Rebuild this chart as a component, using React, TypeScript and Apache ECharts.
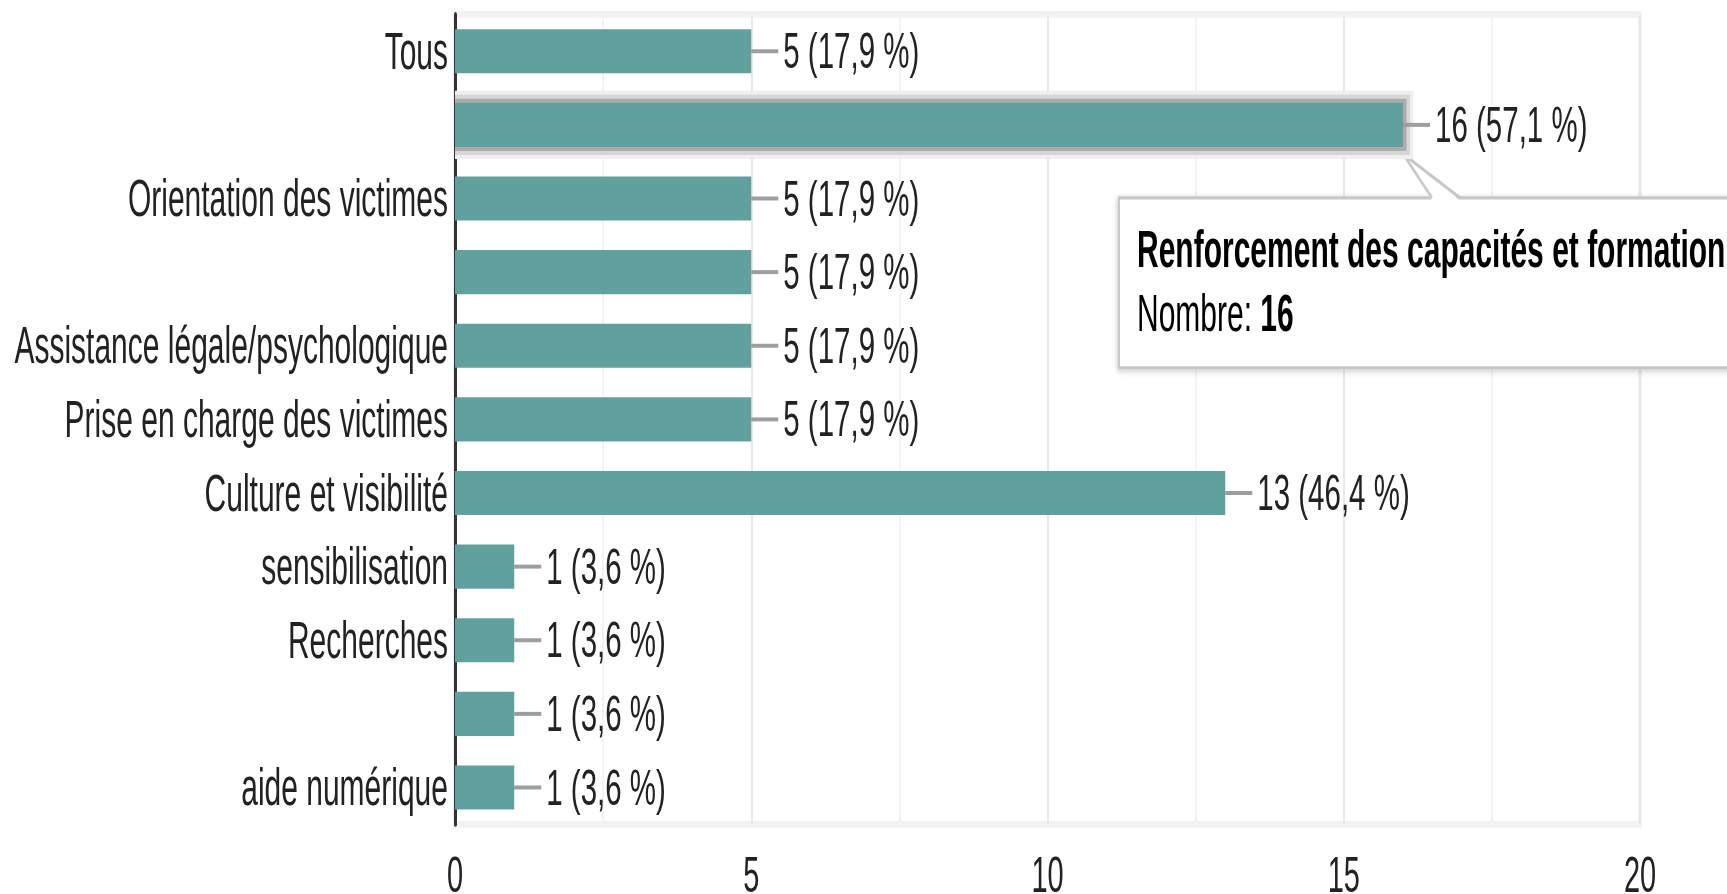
import React, { useEffect, useRef } from "react";
import * as echarts from "echarts";

const categories = [
  "Tous",
  "Renforcement des capacités et formation",
  "Orientation des victimes",
  "Catégorie 4",
  "Assistance légale/psychologique",
  "Prise en charge des victimes",
  "Culture et visibilité",
  "sensibilisation",
  "Recherches",
  "Catégorie 10",
  "aide numérique",
];
const tickLabels = [
  "Tous",
  "",
  "Orientation des victimes",
  "",
  "Assistance légale/psychologique",
  "Prise en charge des victimes",
  "Culture et visibilité",
  "sensibilisation",
  "Recherches",
  "",
  "aide numérique",
];
const counts = [5, 16, 5, 5, 5, 5, 13, 1, 1, 1, 1];
const percents = ["17,9", "57,1", "17,9", "17,9", "17,9", "17,9", "46,4", "3,6", "3,6", "3,6", "3,6"];
const xTicks = [0, 5, 10, 15, 20];
const highlighted = 1;
const tooltipTitle = "Renforcement des capacités et formation";
const tooltipLabel = "Nombre:";

const W = 1727;
const K = 894 / 526; // vertical stretch of the reference picture
const H = 540; // drawing height (a little taller than the viewport once stretched)
const FONT = "'Liberation Sans', Arial, sans-serif";
const TEAL = "#62a09e";

export default function App() {
  const ref = useRef<HTMLDivElement>(null);
  useEffect(() => {
    if (!ref.current) return;
    const chart = echarts.init(ref.current, null, { renderer: "svg", width: W, height: H });
    const option: any = {
      animation: false,
      textStyle: { fontFamily: FONT },
      grid: {
        left: 455,
        right: W - 1640,
        top: 8.5,
        bottom: H - 485,
        show: true,
        borderColor: "#f2f2f2",
        borderWidth: 4,
        containLabel: false,
      },
      xAxis: {
        type: "value",
        min: xTicks[0],
        max: xTicks[xTicks.length - 1],
        interval: xTicks[1] - xTicks[0],
        axisLine: { show: false },
        axisTick: { show: false },
        minorTick: { show: false, splitNumber: 2 },
        minorSplitLine: { show: true, lineStyle: { color: "#f3f3f3", width: 2 } },
        splitLine: { show: true, lineStyle: { color: "#e8e8e8", width: 2 } },
        axisLabel: { fontSize: 29, color: "#222", margin: 15, fontFamily: FONT },
      },
      yAxis: {
        type: "category",
        inverse: true,
        data: categories,
        axisLine: { show: true, lineStyle: { color: "#333", width: 3 } },
        axisTick: { show: false },
        splitLine: { show: false },
        axisLabel: {
          fontSize: 30,
          color: "#222",
          margin: 7,
          fontFamily: FONT,
          formatter: (_v: string, i: number) => tickLabels[i],
        },
      },
      series: [
        {
          type: "custom",
          z: 1,
          silent: true,
          encode: { x: 0, y: 1 },
          data: counts.map((v, i) => [v, i]),
          renderItem: (params: any, api: any) => {
            const v = api.value(0);
            const i = api.value(1);
            const end = api.coord([v, i]);
            const start = api.coord([0, i]);
            const band = api.size([0, 1])[1];
            const h = band * 0.6;
            const children: any[] = [];
            if (i === highlighted) {
              const dv = 4 / K;
              const dh = 3.5;
              const w = end[0] - start[0];
              const cols = ["#efefef", "#d6d6d6", "#acacac"];
              cols.forEach((c, j) => {
                const n = 3 - j;
                children.push({
                  type: "rect",
                  shape: { x: start[0], y: end[1] - h / 2 - n * dv, width: w + n * dh, height: h + 2 * n * dv },
                  style: { fill: c },
                });
              });
            }
            children.push({
              type: "line",
              shape: { x1: end[0], y1: end[1], x2: end[0] + 27, y2: end[1] },
              style: { stroke: "#9e9e9e", lineWidth: 4 / K },
            });
            return { type: "group", children };
          },
        },
        {
          type: "bar",
          z: 2,
          data: counts,
          barCategoryGap: "40%",
          itemStyle: { color: TEAL },
          label: {
            show: true,
            position: "right",
            distance: 32,
            fontSize: 29.5,
            color: "#222",
            fontFamily: FONT,
            formatter: (p: any) => `${counts[p.dataIndex]} (${percents[p.dataIndex]} %)`,
          },
        },
      ],
    };
    chart.setOption(option);

    const p = chart.convertToPixel({ xAxisIndex: 0, yAxisIndex: 0 }, [counts[highlighted], highlighted]) as number[];
    const ax = p[0];
    const ay = p[1];
    const boxL = ax - 284;
    const boxT = ay + 73 / K;
    const boxB = ay + 243 / K;
    const apexY = ay + 29 / K;
    chart.setOption({
      graphic: [
        {
          type: "group",
          z: 100,
          children: [
            {
              type: "rect",
              shape: { x: boxL, y: boxT, width: 660, height: boxB - boxT },
              style: {
                fill: "#fff",
                stroke: "#c8c8c8",
                lineWidth: 2,
                shadowBlur: 4,
                shadowColor: "rgba(0,0,0,0.2)",
                shadowOffsetX: -1,
                shadowOffsetY: 1,
              },
            },
            {
              type: "polygon",
              shape: { points: [[ax, apexY], [ax + 29, boxT + 1.5], [ax + 57, boxT + 1.5]] },
              style: { fill: "#fff" },
            },
            {
              type: "polyline",
              shape: { points: [[ax + 29, boxT], [ax, apexY], [ax + 57, boxT]] },
              style: { stroke: "#c8c8c8", lineWidth: 2, fill: null },
            },
            {
              type: "text",
              x: ax - 266,
              y: ay + 124 / K,
              style: {
                text: tooltipTitle,
                fontSize: 30,
                fontWeight: "bold",
                fontFamily: FONT,
                fill: "#000",
                align: "left",
                verticalAlign: "middle",
              },
            },
            {
              type: "text",
              x: ax - 266,
              y: ay + 188 / K,
              style: {
                text: `{a|${tooltipLabel}} {b|${counts[highlighted]}}`,
                fontSize: 30,
                fontFamily: FONT,
                fill: "#000",
                align: "left",
                verticalAlign: "middle",
                rich: {
                  a: { fontSize: 30, fontFamily: FONT, fill: "#000" },
                  b: { fontSize: 30, fontFamily: FONT, fontWeight: "bold", fill: "#000" },
                },
              },
            },
          ],
        },
      ],
    });
    return () => chart.dispose();
  }, []);
  return (
    <div
      ref={ref}
      style={{
        position: "fixed",
        left: 0,
        top: 0,
        width: W,
        height: H,
        transform: `scaleY(${K})`,
        transformOrigin: "0 0",
        background: "#fff",
      }}
    />
  );
}
